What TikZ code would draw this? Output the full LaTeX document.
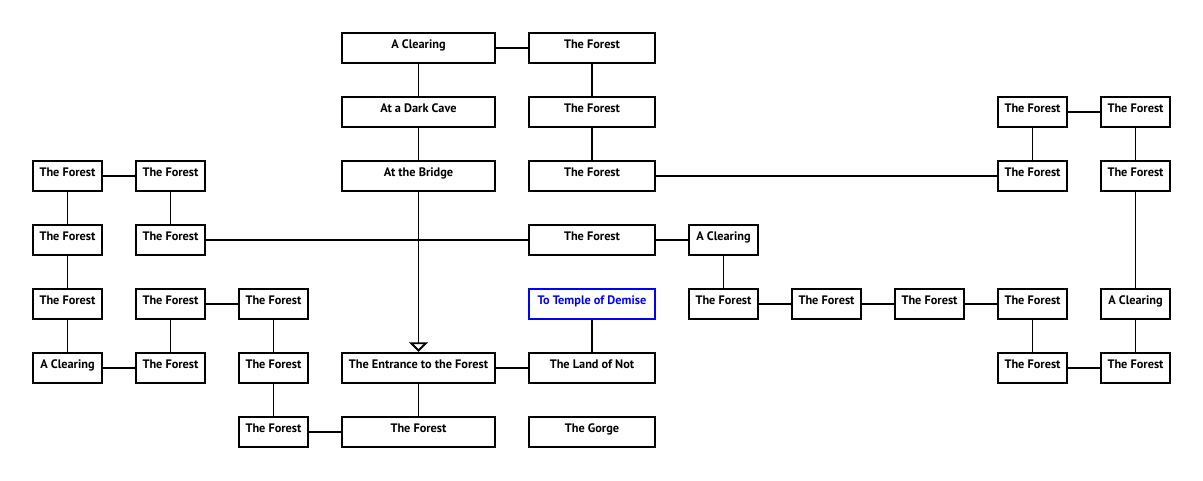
\documentclass[tikz,border=0pt]{standalone}
\usepackage{fontspec}
\setmainfont{PT Sans}
\usetikzlibrary{arrows.meta}
\begin{document}
\begin{tikzpicture}[x=1pt,y=-1pt,
  room/.style={draw, line width=1.9pt, fill=white, minimum height=30.5pt, inner sep=0pt,
    text height=8pt, text depth=8pt, font=\bfseries\fontsize{12.3}{14}\selectfont},
  sm/.style={room, minimum width=69.5pt},
  wl/.style={room, minimum width=153.5pt},
  wm/.style={room, minimum width=126.5pt},
  goal/.style={wm, draw=blue, text=blue},
  lnk/.style={line width=1.9pt}]
\useasboundingbox (0,0) rectangle (1203,480);
% columns
\def\ca{67.5}\def\cb{170.5}\def\cc{273.5}\def\cl{418.5}\def\cm{592}
\def\cf{723.5}\def\cg{826.5}\def\ch{929.5}\def\ci{1032.5}\def\cj{1135.5}
% row 1
\node[wl] (l1) at (\cl,48) {A Clearing};
\node[wm] (m1) at (\cm,48) {The Forest};
% row 2
\node[wl] (l2) at (\cl,112) {At a Dark Cave};
\node[wm] (m2) at (\cm,112) {The Forest};
\node[sm] (i2) at (\ci,112) {The Forest};
\node[sm] (j2) at (\cj,112) {The Forest};
% row 3
\node[sm] (a3) at (\ca,176) {The Forest};
\node[sm] (b3) at (\cb,176) {The Forest};
\node[wl] (l3) at (\cl,176) {At the Bridge};
\node[wm] (m3) at (\cm,176) {The Forest};
\node[sm] (i3) at (\ci,176) {The Forest};
\node[sm] (j3) at (\cj,176) {The Forest};
% row 4
\node[sm] (a4) at (\ca,240) {The Forest};
\node[sm] (b4) at (\cb,240) {The Forest};
\node[wm] (m4) at (\cm,240) {The Forest};
\node[sm] (f4) at (\cf,240) {A Clearing};
% row 5
\node[sm] (a5) at (\ca,304) {The Forest};
\node[sm] (b5) at (\cb,304) {The Forest};
\node[sm] (c5) at (\cc,304) {The Forest};
\node[goal] (m5) at (\cm,304) {To Temple of Demise};
\node[sm] (f5) at (\cf,304) {The Forest};
\node[sm] (g5) at (\cg,304) {The Forest};
\node[sm] (h5) at (\ch,304) {The Forest};
\node[sm] (i5) at (\ci,304) {The Forest};
\node[sm] (j5) at (\cj,304) {A Clearing};
% row 6
\node[sm] (a6) at (\ca,368) {A Clearing};
\node[sm] (b6) at (\cb,368) {The Forest};
\node[sm] (c6) at (\cc,368) {The Forest};
\node[wl] (l6) at (\cl,368) {The Entrance to the Forest};
\node[wm] (m6) at (\cm,368) {The Land of Not};
\node[sm] (i6) at (\ci,368) {The Forest};
\node[sm] (j6) at (\cj,368) {The Forest};
% row 7
\node[sm] (c7) at (\cc,432) {The Forest};
\node[wl] (l7) at (\cl,432) {The Forest};
\node[wm] (m7) at (\cm,432) {The Gorge};
% links
\draw[lnk] (l1) -- (m1);
\draw[lnk] (l1) -- (l2);
\draw[lnk] (l2) -- (l3);
\draw[lnk] (m1) -- (m2);
\draw[lnk] (m2) -- (m3);
\draw[lnk] (m3) -- (i3);
\draw[lnk] (i2) -- (j2);
\draw[lnk] (i2) -- (i3);
\draw[lnk] (j2) -- (j3);
\draw[lnk] (j3) -- (j5);
\draw[lnk] (j5) -- (j6);
\draw[lnk] (i6) -- (j6);
\draw[lnk] (i5) -- (i6);
\draw[lnk] (f5) -- (g5);
\draw[lnk] (g5) -- (h5);
\draw[lnk] (h5) -- (i5);
\draw[lnk] (f4) -- (f5);
\draw[lnk] (m4) -- (f4);
\draw[lnk] (b4) -- (m4);
\draw[lnk] (a3) -- (b3);
\draw[lnk] (b3) -- (b4);
\draw[lnk] (a3) -- (a4);
\draw[lnk] (a4) -- (a5);
\draw[lnk] (a5) -- (a6);
\draw[lnk] (a6) -- (b6);
\draw[lnk] (b5) -- (b6);
\draw[lnk] (b5) -- (c5);
\draw[lnk] (c5) -- (c6);
\draw[lnk] (c6) -- (c7);
\draw[lnk] (c7) -- (l7);
\draw[lnk] (l6) -- (l7);
\draw[lnk] (l6) -- (m6);
\draw[lnk] (m5) -- (m6);
\draw[lnk, -{Triangle[open, width=19pt, length=9.5pt]}] (l3) -- (l6);
\end{tikzpicture}
\end{document}
